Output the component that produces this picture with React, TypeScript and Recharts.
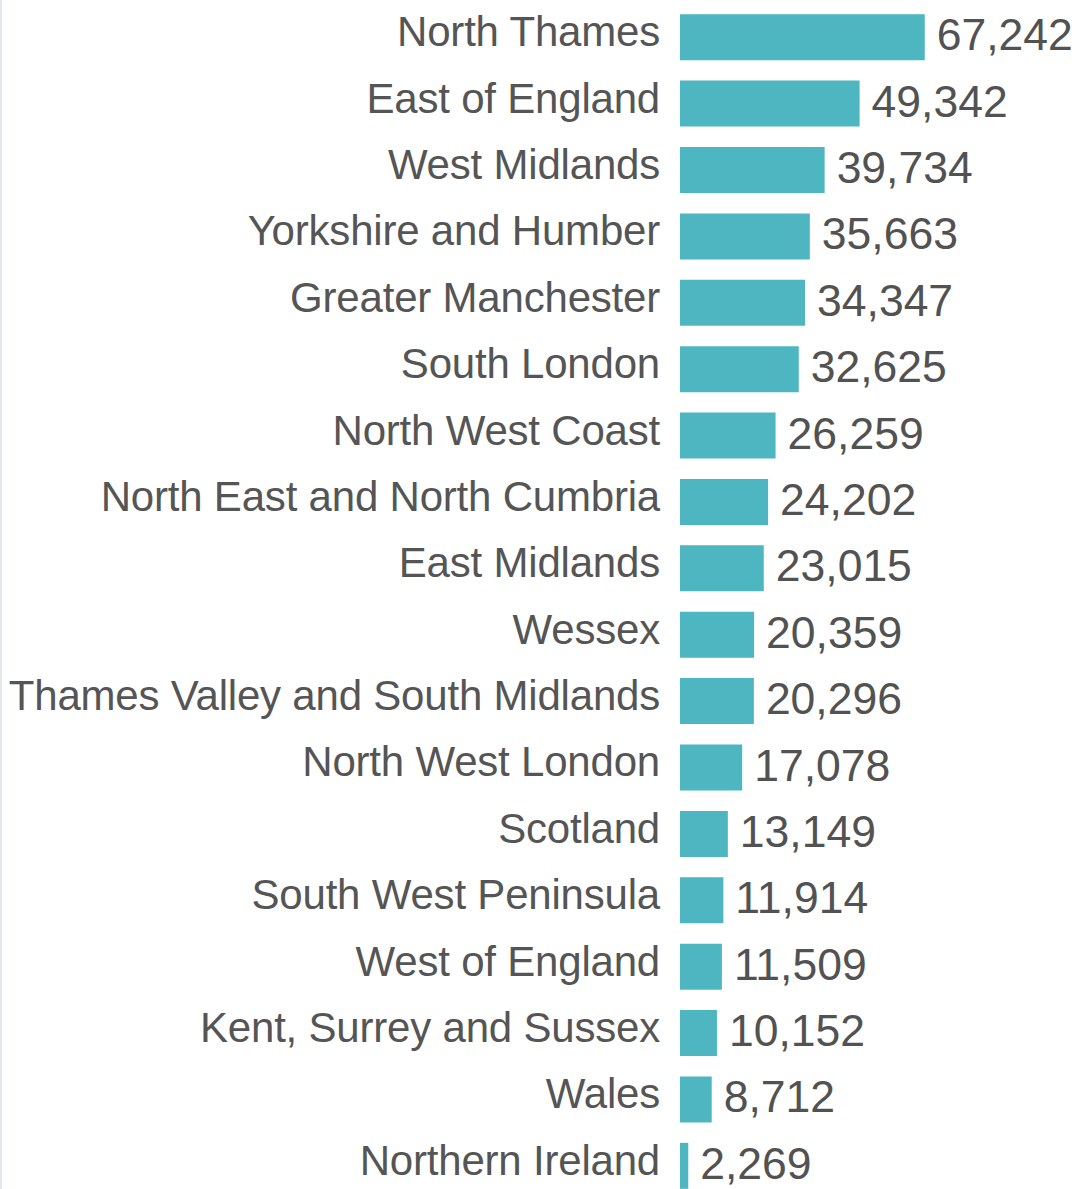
import React from "react";
import { BarChart, Bar, XAxis, YAxis, LabelList } from "recharts";

const regions = [
  "North Thames",
  "East of England",
  "West Midlands",
  "Yorkshire and Humber",
  "Greater Manchester",
  "South London",
  "North West Coast",
  "North East and North Cumbria",
  "East Midlands",
  "Wessex",
  "Thames Valley and South Midlands",
  "North West London",
  "Scotland",
  "South West Peninsula",
  "West of England",
  "Kent, Surrey and Sussex",
  "Wales",
  "Northern Ireland",
];

const counts = [
  67242, 49342, 39734, 35663, 34347, 32625, 26259, 24202, 23015, 20359, 20296,
  17078, 13149, 11914, 11509, 10152, 8712, 2269,
];

const data = regions.map((name, i) => ({ name, value: counts[i] }));

const FONT = "'Liberation Sans', Arial, sans-serif";

const CategoryTick = (props: any) => {
  const { x, y, payload } = props;
  return (
    <text
      x={x}
      y={y}
      dy={9}
      textAnchor="end"
      fill="#555555"
      fontSize={42}
      fontFamily={FONT}
      letterSpacing={-0.2}
    >
      {payload.value}
    </text>
  );
};

const ValueLabel = (props: any) => {
  const { x, y, width, height, value } = props;
  return (
    <text
      x={x + width + 12}
      y={y + height / 2}
      dy={13}
      textAnchor="start"
      fill="#525252"
      fontSize={44.5}
      fontFamily={FONT}
    >
      {Number(value).toLocaleString("en-US")}
    </text>
  );
};

export default function App() {
  return (
    <div
      style={{
        position: "absolute",
        left: 0,
        top: 0,
        width: 1089,
        height: 1189,
        overflow: "hidden",
        background: "#ffffff",
        borderLeft: "2px solid #e3e8ee",
        boxSizing: "border-box",
      }}
    >
      <BarChart
        width={1087}
        height={1200}
        data={data}
        layout="vertical"
        margin={{ top: 4, right: 45, bottom: 1, left: 0 }}
        barCategoryGap="15.4%"
      >
        <XAxis type="number" hide domain={[0, 100000]} />
        <YAxis
          type="category"
          dataKey="name"
          width={678}
          axisLine={false}
          tickLine={false}
          tickSize={0}
          tickMargin={20}
          interval={0}
          tick={<CategoryTick />}
        />
        <Bar dataKey="value" fill="#4db6c1" isAnimationActive={false}>
          <LabelList dataKey="value" content={<ValueLabel />} />
        </Bar>
      </BarChart>
    </div>
  );
}
